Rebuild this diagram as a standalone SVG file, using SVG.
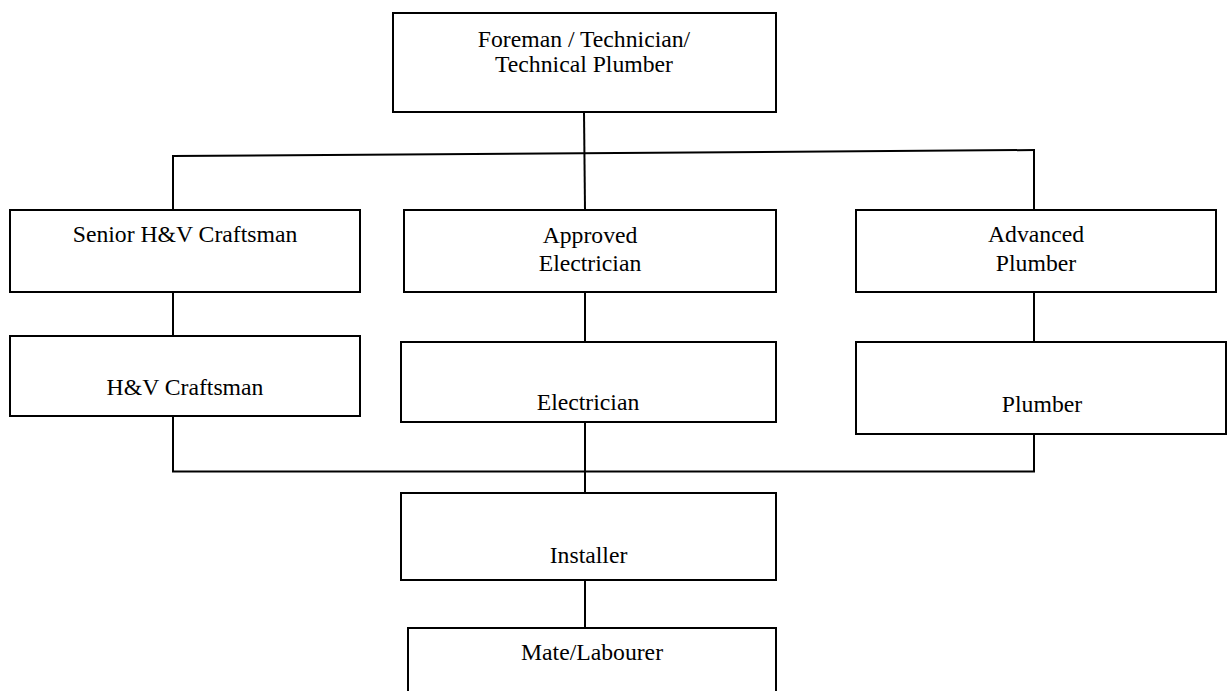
<svg xmlns="http://www.w3.org/2000/svg" width="1227" height="691" viewBox="0 0 1227 691">
<style>
.box{fill:#fff;stroke:#000;stroke-width:2}
.ln{fill:none;stroke:#000;stroke-width:2}
text{font-family:"Liberation Serif","Times New Roman",serif;font-size:23.7px;fill:#000;text-anchor:middle}
</style>
<rect width="1227" height="691" fill="#fff"/>
<g id="connectors">
<line class="ln" x1="584" y1="112" x2="585" y2="210"/>
<line class="ln" x1="172" y1="156" x2="1035" y2="150"/>
<line class="ln" x1="173" y1="156" x2="173" y2="210"/>
<line class="ln" x1="1034" y1="150" x2="1034" y2="210"/>
<line class="ln" x1="173" y1="292" x2="173" y2="336"/>
<line class="ln" x1="585" y1="292" x2="585" y2="342"/>
<line class="ln" x1="1034" y1="292" x2="1034" y2="342"/>
<polyline class="ln" points="173,416 173,471.5 1034,471.5 1034,434"/>
<line class="ln" x1="585" y1="422" x2="585" y2="493"/>
<line class="ln" x1="585" y1="580" x2="585" y2="628"/>
</g>
<g id="foreman">
<rect class="box" x="393" y="13" width="383" height="99"/>
<text x="584" y="47">Foreman / Technician/</text>
<text x="584" y="72">Technical Plumber</text>
</g>
<g id="senior-hv">
<rect class="box" x="10" y="210" width="350" height="82"/>
<text x="185" y="242">Senior H&amp;V Craftsman</text>
</g>
<g id="approved-electrician">
<rect class="box" x="404" y="210" width="372" height="82"/>
<text x="590" y="243">Approved</text>
<text x="590" y="271">Electrician</text>
</g>
<g id="advanced-plumber">
<rect class="box" x="856" y="210" width="360" height="82"/>
<text x="1036" y="242">Advanced</text>
<text x="1036" y="271">Plumber</text>
</g>
<g id="hv-craftsman">
<rect class="box" x="10" y="336" width="350" height="80"/>
<text x="185" y="395">H&amp;V Craftsman</text>
</g>
<g id="electrician">
<rect class="box" x="401" y="342" width="375" height="80"/>
<text x="588" y="410">Electrician</text>
</g>
<g id="plumber">
<rect class="box" x="856" y="342" width="370" height="92"/>
<text x="1042" y="412">Plumber</text>
</g>
<g id="installer">
<rect class="box" x="401" y="493" width="375" height="87"/>
<text x="588.5" y="563">Installer</text>
</g>
<g id="mate-labourer">
<rect class="box" x="408" y="628" width="368" height="80"/>
<text x="592" y="660">Mate/Labourer</text>
</g>
</svg>
